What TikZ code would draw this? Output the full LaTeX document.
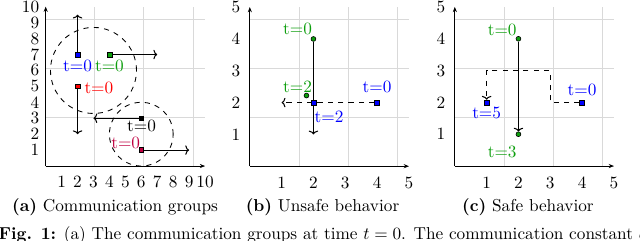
\documentclass[tikz,border=0pt]{standalone}
\usetikzlibrary{arrows.meta}
\pgfdeclarelayer{bg}
\pgfsetlayers{bg,main}
\definecolor{mygreen}{rgb}{0.05,0.62,0.05}
\definecolor{mypurple}{rgb}{0.75,0,0.25}
\tikzset{
  gridline/.style={gray!30, line width=0.4pt},
  axisline/.style={-{Stealth[length=3pt,width=2.4pt]}, line width=0.45pt},
  move/.style={-{To[length=2.2pt,width=5.5pt]}, line width=0.6pt},
  sq/.style={draw=black, rectangle, minimum size=2.8pt, inner sep=0pt, line width=0.35pt},
  gdot/.style={draw=black, circle, minimum size=2.8pt, inner sep=0pt, line width=0.35pt, fill=mygreen},
  tlab/.style={inner sep=0pt},
  xtick/.style={anchor=base, inner sep=0pt},
  ytick/.style={anchor=east, inner sep=0pt},
}
\begin{document}
\begin{tikzpicture}
\clip (0,0) rectangle (371.2pt,139.2pt);

% ---------- panel (a) ----------
\begin{scope}[shift={(26.5pt,42.9pt)}, x=9.24pt, y=9.24pt]
  \node[sq, fill=blue]     (a1) at (2,7) {};
  \node[sq, fill=mygreen]  (a2) at (4,7) {};
  \node[sq, fill=red]      (a3) at (2,5) {};
  \node[sq, fill=black]    (a4) at (6,3) {};
  \node[sq, fill=mypurple] (a5) at (6,1) {};
  \coordinate (e1) at (2,9.5);
  \coordinate (e2) at (7,7);
  \coordinate (e3) at (2,2);
  \coordinate (e4) at (3,3);
  \coordinate (e5) at (9,1);
  \coordinate (ao) at (0,0);
  \coordinate (ax) at (10,0);
  \coordinate (ay) at (0,10);
  \coordinate (c1) at (3,6);
  \coordinate (c2) at (6,2);
  \begin{pgfonlayer}{bg}
    \draw[gridline] (0,0) grid (10,10);
    \draw[axisline] (ao) -- (ax);
    \draw[axisline] (ao) -- (ay);
    \draw[dashed, line width=0.5pt] (c1) circle [radius=2.7];
    \draw[dashed, line width=0.5pt] (c2) circle [radius=2];
    \draw[move] (a1) -- (e1);
    \draw[move] (a2) -- (e2);
    \draw[move] (a3) -- (e3);
    \draw[move] (a4) -- (e4);
    \draw[move] (a5) -- (e5);
  \end{pgfonlayer}
  \foreach \i in {1,...,10} {
    \node[xtick, yshift=-12.4pt] (axt\i) at (\i,0) {\i};
    \node[ytick, xshift=-3.6pt] (ayt\i) at (0,\i) {\i};
  }
  \node[tlab, text=blue]     (la1) at (2,6.27) {t=0};
  \node[tlab, text=mygreen]  (la2) at (4,6.27) {t=0};
  \node[tlab, text=red]      (la3) at (3.34,4.93) {t=0};
  \node[tlab, text=black]    (la4) at (6.02,2.5) {t=0};
  \node[tlab, text=mypurple] (la5) at (5.02,1.46) {t=0};
\end{scope}

% ---------- panel (b) ----------
\begin{scope}[shift={(144.9pt,42.8pt)}, x=18.45pt, y=18.45pt]
  \node[gdot] (bg0) at (2,4) {};
  \node[gdot] (bg2) at (1.78,2.22) {};
  \node[sq, fill=blue] (bb0) at (4,2) {};
  \node[sq, fill=blue] (bb2) at (2,2) {};
  \coordinate (be1) at (2,1);
  \coordinate (be2) at (1,2);
  \coordinate (bo) at (0,0);
  \coordinate (bx) at (5,0);
  \coordinate (by) at (0,5);
  \begin{pgfonlayer}{bg}
    \draw[gridline] (0,0) grid (5,5);
    \draw[axisline] (bo) -- (bx);
    \draw[axisline] (bo) -- (by);
    \draw[move, dashed] (bb0) -- (be2);
    \draw[move] (bg0) -- (be1);
  \end{pgfonlayer}
  \foreach \i in {1,...,5} {
    \node[xtick, yshift=-12.8pt] (bxt\i) at (\i,0) {\i};
    \node[ytick, xshift=-5.3pt] (byt\i) at (0,\i) {\i};
  }
  \node[tlab, text=mygreen] (lb1) at (1.5,4.3) {t=0};
  \node[tlab, text=mygreen] (lb2) at (1.5,2.5) {t=2};
  \node[tlab, text=blue]    (lb3) at (4,2.48) {t=0};
  \node[tlab, text=blue]    (lb4) at (2.49,1.56) {t=2};
\end{scope}

% ---------- panel (c) ----------
\begin{scope}[shift={(263.8pt,42.9pt)}, x=18.45pt, y=18.45pt]
  \node[gdot] (cg0) at (2,4) {};
  \node[gdot] (cg3) at (2,1) {};
  \node[sq, fill=blue] (cb0) at (4,2) {};
  \node[sq, fill=blue] (cb5) at (1,2) {};
  \coordinate (co) at (0,0);
  \coordinate (cx) at (5,0);
  \coordinate (cy) at (0,5);
  \begin{pgfonlayer}{bg}
    \draw[gridline] (0,0) grid (5,5);
    \draw[axisline] (co) -- (cx);
    \draw[axisline] (co) -- (cy);
    \draw[move, dashed] (cb0) -- (3,2) -- (3,3) -- (1,3) -- (cb5);
    \draw[move] (cg0) -- (cg3);
  \end{pgfonlayer}
  \foreach \i in {1,...,5} {
    \node[xtick, yshift=-12.8pt] (cxt\i) at (\i,0) {\i};
    \node[ytick, xshift=-5.3pt] (cyt\i) at (0,\i) {\i};
  }
  \node[tlab, text=mygreen] (lc1) at (1.49,4.27) {t=0};
  \node[tlab, text=mygreen] (lc2) at (1.49,0.45) {t=3};
  \node[tlab, text=blue]    (lc3) at (4,2.39) {t=0};
  \node[tlab, text=blue]    (lc4) at (1,1.67) {t=5};
\end{scope}

% ---------- captions ----------
\node[anchor=base] (capa) at (66.7pt,16.4pt) {\textbf{(a)} Communication groups};
\node[anchor=base] (capb) at (187.05pt,16.4pt) {\textbf{(b)} Unsafe behavior};
\node[anchor=base] (capc) at (306.2pt,16.4pt) {\textbf{(c)} Safe behavior};
\node[anchor=base west, inner sep=0pt] (fig) at (-1pt,0.2pt) {\textbf{Fig. 1:} (a) The communication groups at time $t=0$. The communication constant $c$};
\end{tikzpicture}
\end{document}
